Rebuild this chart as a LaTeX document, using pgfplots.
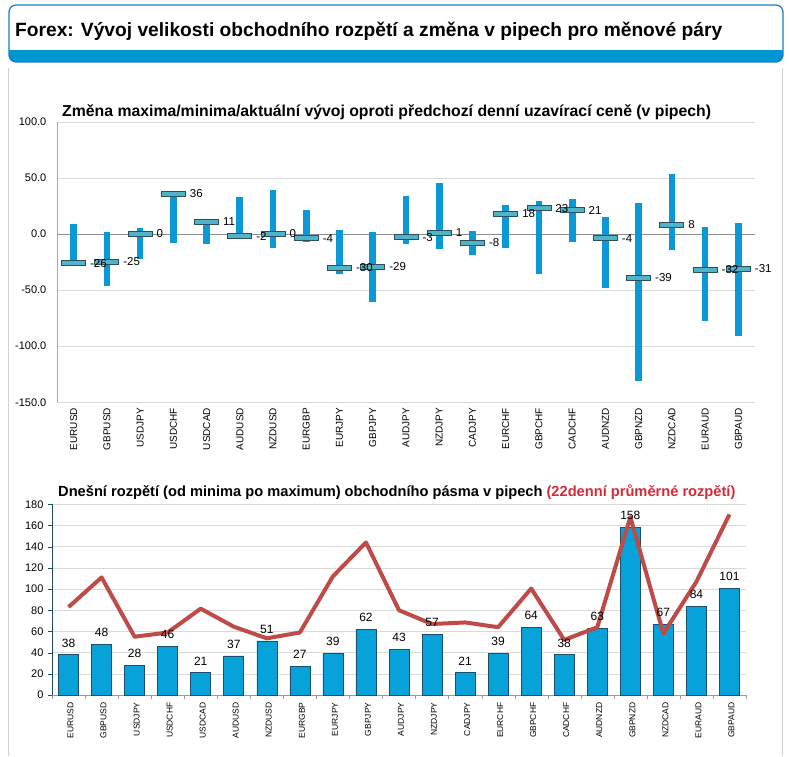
\documentclass[border=0pt]{standalone}
\usepackage{pgfplots}
\usepackage{pgfplotstable}
\pgfplotsset{compat=1.18}
\usepackage{fontspec}
\setmainfont{Liberation Sans}
\definecolor{hdrblue}{HTML}{1A7CC0}
\definecolor{bandblue}{HTML}{0096D2}
\definecolor{rngblue}{HTML}{0A98D6}
\definecolor{mkfill}{HTML}{4FB3C9}
\definecolor{mkedge}{HTML}{2E4E58}
\definecolor{barfill}{HTML}{07A2DA}
\definecolor{baredge}{HTML}{1A4F6E}
\definecolor{avgred}{HTML}{BE4B48}
\definecolor{ttlred}{HTML}{D42A35}
\definecolor{gridc}{HTML}{D9D9D9}
\pgfplotsset{/pgf/number format/assume math mode=true}
\pgfdeclareplotmark{hbar}{%
  \pgfpathrectangle{\pgfpoint{-12pt}{-2.5pt}}{\pgfpoint{24pt}{5pt}}%
  \pgfusepathqfillstroke}
\pgfplotstableread{
x lo hi cur
0 -29 9 -26
1 -46 1.5 -25
2 -22 5 0
3 -8 36 36
4 -9 11 11
5 -3 33 -2
6 -12.5 39 0
7 -7.5 21 -4
8 -36 3.5 -30
9 -61 1.5 -29
10 -9 34 -3
11 -13.5 45 1
12 -19 3 -8
13 -12.5 26 18
14 -36 29 23
15 -7.5 31 21
16 -48 15.5 -4
17 -131 28 -39
18 -14.5 53 8
19 -78 6 -32
20 -91 10 -31
}\topdata
\pgfplotstableread{
x rng avg
0 38 83
1 48 111
2 28 55
3 46 59
4 21 81.5
5 37 64.5
6 51 53.5
7 27 59
8 39 112
9 62 144
10 43 80
11 57 67
12 21 68.5
13 39 64
14 64 100.5
15 38 52
16 63 64
17 158 168
18 67 58
19 84 107
20 101 170.5
}\botdata
\begin{document}
\begin{tikzpicture}[x=1pt,y=1pt]
\useasboundingbox (0,0) rectangle (790,-756);
% frame
\draw[gray!35, line width=1.5pt] (8.5,-68) -- (8.5,-756);
\draw[gray!35, line width=1.5pt] (782.5,-68) -- (782.5,-756);
% header
\begin{scope}
\clip[rounded corners=7pt] (9,-5) rectangle (783,-62);
\fill[white] (9,-5) rectangle (783,-62);
\fill[bandblue] (9,-50) rectangle (783,-62);
\end{scope}
\draw[hdrblue, line width=1.2pt, rounded corners=7pt] (9,-5) rectangle (783,-62);
\node[anchor=base west, inner sep=0] at (15,-36) {\fontsize{19.2}{22}\selectfont\bfseries Forex: Vývoj velikosti obchodního rozpětí a změna v pipech pro měnové páry};
% chart titles
\node[anchor=base west, inner sep=0] at (62,-116) {\fontsize{15.8}{18}\selectfont\bfseries Změna maxima/minima/aktuální vývoj oproti předchozí denní uzavírací ceně (v pipech)};
\node[anchor=base west, inner sep=0] at (58,-496) {\fontsize{14.65}{17}\selectfont\bfseries Dnešní rozpětí (od minima po maximum) obchodního pásma v pipech \textcolor{ttlred}{(22denní průměrné rozpětí)}};
% top axis
\begin{axis}[
  at={(57pt,-402.3pt)}, anchor=south west,
  scale only axis, width=698pt, height=280.6pt,
  xmin=-0.5, xmax=20.5, ymin=-150, ymax=100,
  ytick={-150,-100,...,100},
  yticklabel style={/pgf/number format/fixed, /pgf/number format/fixed zerofill, /pgf/number format/precision=1, font=\fontsize{11}{13}\selectfont, xshift=-5pt},
  xtick={0,...,20},
  xticklabels={EURUSD,GBPUSD,USDJPY,USDCHF,USDCAD,AUDUSD,NZDUSD,EURGBP,EURJPY,GBPJPY,AUDJPY,NZDJPY,CADJPY,EURCHF,GBPCHF,CADCHF,AUDNZD,GBPNZD,NZDCAD,EURAUD,GBPAUD},
  xticklabel style={rotate=90, anchor=east, font=\fontsize{10}{12}\selectfont},
  axis y line=left, axis x line=bottom, axis line style={-},
  x axis line style={draw=none}, y axis line style={draw=gray!70},
  tick style={draw=none},
  ymajorgrids, grid style={draw=gridc},
  clip=false,
]
\draw[gray!90] (axis cs:-0.5,0) -- (axis cs:20.5,0);
\addplot[only marks, mark=none, error bars/.cd, y dir=both, y explicit, error mark=none,
  error bar style={line width=6.7pt, draw=rngblue}]
  table[x=x, y=cur, y error plus expr=\thisrow{hi}-\thisrow{cur}, y error minus expr=\thisrow{cur}-\thisrow{lo}] {\topdata};
\addplot[only marks, mark=hbar, mark options={fill=mkfill, draw=mkedge, line width=0.9pt}]
  table[x=x, y=cur] {\topdata};
\addplot[only marks, mark=none,
  nodes near coords, point meta=y,
  every node near coord/.append style={anchor=west, xshift=13pt, font=\fontsize{11.5}{13}\selectfont, text=black}]
  table[x=x, y=cur] {\topdata};
\end{axis}
% bottom axis
\begin{axis}[
  at={(52pt,-695pt)}, anchor=south west,
  scale only axis, width=694pt, height=190.7pt,
  xmin=-0.5, xmax=20.5, ymin=0, ymax=180,
  ytick={0,20,...,180},
  yticklabel style={font=\fontsize{11}{13}\selectfont, xshift=-1pt},
  xtick={0,...,20},
  xticklabels={EURUSD,GBPUSD,USDJPY,USDCHF,USDCAD,AUDUSD,NZDUSD,EURGBP,EURJPY,GBPJPY,AUDJPY,NZDJPY,CADJPY,EURCHF,GBPCHF,CADCHF,AUDNZD,GBPNZD,NZDCAD,EURAUD,GBPAUD},
  xticklabel style={rotate=90, anchor=east, font=\fontsize{8.5}{10}\selectfont, yshift=-2pt},
  axis y line=left, axis x line=bottom, axis line style={-},
  x axis line style={draw=gray!80}, y axis line style={draw=baredge},
  xtick style={draw=none},
  ytick style={draw=baredge},
  tick align=outside, major tick length=4pt,
  extra x ticks={-0.5,0.5,...,20.5}, extra x tick labels={},
  extra x tick style={xtick style={draw=gray!80}, major tick length=4pt, tick align=outside},
  ymajorgrids, grid style={draw=gridc},
  clip=false,
]
\addplot[ybar, bar width=20pt, fill=barfill, draw=baredge, line width=0.6pt,
  nodes near coords, point meta=y,
  every node near coord/.append style={font=\fontsize{12}{14}\selectfont, text=black, yshift=4pt}]
  table[x=x, y=rng] {\botdata};
\addplot[avgred, line width=4pt, mark=none, line join=round] table[x=x, y=avg] {\botdata};
\end{axis}
\end{tikzpicture}
\end{document}
